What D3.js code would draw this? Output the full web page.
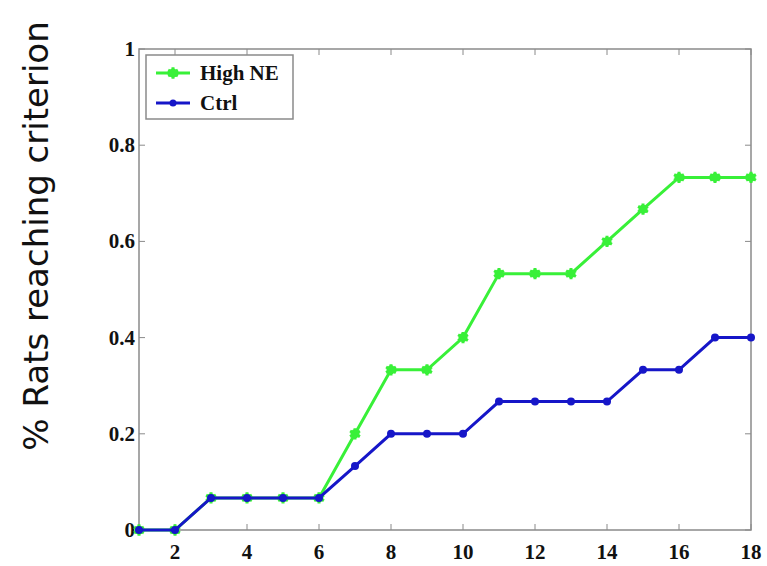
<!DOCTYPE html>
<html>
<head>
<meta charset="utf-8">
<script src="https://cdn.jsdelivr.net/npm/d3@7"></script>
<style>
  body { margin: 0; background: #fff; }
  .tick-label { font-family: "Liberation Serif", "Times New Roman", serif; font-weight: bold; font-size: 21px; fill: #111; }
  .legend-text { font-family: "Liberation Serif", "Times New Roman", serif; font-weight: bold; font-size: 21px; fill: #111; }
  .y-title { font-family: "DejaVu Sans", Verdana, sans-serif; font-size: 34px; fill: #111; }
</style>
</head>
<body>
<div id="chart"></div>
<script>
// data
const days = [1, 2, 3, 4, 5, 6, 7, 8, 9, 10, 11, 12, 13, 14, 15, 16, 17, 18];
const highNE = [0, 0, 0.0667, 0.0667, 0.0667, 0.0667, 0.2, 0.333, 0.333, 0.4, 0.533, 0.533, 0.533, 0.6, 0.667, 0.733, 0.733, 0.733];
const ctrl = [0, 0, 0.0667, 0.0667, 0.0667, 0.0667, 0.133, 0.2, 0.2, 0.2, 0.267, 0.267, 0.267, 0.267, 0.333, 0.333, 0.4, 0.4];
const xTicks = [2, 4, 6, 8, 10, 12, 14, 16, 18];
const yTicks = [0, 0.2, 0.4, 0.6, 0.8, 1];
const seriesNames = ["High NE", "Ctrl"];

const width = 767, height = 566;
const margin = { top: 49, right: 16, bottom: 36, left: 139 };
const innerW = width - margin.left - margin.right;
const innerH = height - margin.top - margin.bottom;

const svg = d3.select("#chart").append("svg")
  .attr("width", width)
  .attr("height", height);

const chart = svg.append("g")
  .attr("transform", `translate(${margin.left},${margin.top})`);

const xScale = d3.scaleLinear().domain([1, 18]).range([0, innerW]);
const yScale = d3.scaleLinear().domain([0, 1]).range([innerH, 0]);

const axisColor = "#8a8a8a";

// box
chart.append("rect")
  .attr("x", 0).attr("y", 0)
  .attr("width", innerW).attr("height", innerH)
  .attr("fill", "none")
  .attr("stroke", axisColor)
  .attr("stroke-width", 1.5);

// inward ticks on all four sides
const tickLen = 6;
chart.selectAll(".xtick-b").data(xTicks).join("line")
  .attr("x1", d => xScale(d)).attr("x2", d => xScale(d))
  .attr("y1", innerH).attr("y2", innerH - tickLen)
  .attr("stroke", axisColor);
chart.selectAll(".xtick-t").data(xTicks).join("line")
  .attr("x1", d => xScale(d)).attr("x2", d => xScale(d))
  .attr("y1", 0).attr("y2", tickLen)
  .attr("stroke", axisColor);
chart.selectAll(".ytick-l").data(yTicks).join("line")
  .attr("x1", 0).attr("x2", tickLen)
  .attr("y1", d => yScale(d)).attr("y2", d => yScale(d))
  .attr("stroke", axisColor);
chart.selectAll(".ytick-r").data(yTicks).join("line")
  .attr("x1", innerW).attr("x2", innerW - tickLen)
  .attr("y1", d => yScale(d)).attr("y2", d => yScale(d))
  .attr("stroke", axisColor);

// tick labels
chart.selectAll(".xlab").data(xTicks).join("text")
  .attr("class", "tick-label")
  .attr("x", d => xScale(d))
  .attr("y", innerH + 29)
  .attr("text-anchor", "middle")
  .text(d => d);
chart.selectAll(".ylab").data(yTicks).join("text")
  .attr("class", "tick-label")
  .attr("x", -4)
  .attr("y", d => yScale(d) + 7)
  .attr("text-anchor", "end")
  .text(d => d3.format("~g")(d));

// y title
svg.append("text")
  .attr("class", "y-title")
  .attr("transform", "translate(48,236) rotate(-90)")
  .attr("text-anchor", "middle")
  .text("% Rats reaching criterion");

const green = "#38f038", blue = "#1616c8";
const line = d3.line().x((d, i) => xScale(days[i])).y(d => yScale(d));

// green first so blue sits on top where they overlap
chart.append("path").datum(highNE)
  .attr("d", line).attr("fill", "none")
  .attr("stroke", green).attr("stroke-width", 3);
chart.selectAll(".gstar").data(highNE).join("path")
  .attr("transform", (d, i) => `translate(${xScale(days[i])},${yScale(d)})`)
  .attr("d", d3.symbol(d3.symbolAsterisk, 90))
  .attr("stroke", green).attr("stroke-width", 3).attr("fill", "none");
chart.selectAll(".gdot").data(highNE).join("circle")
  .attr("cx", (d, i) => xScale(days[i])).attr("cy", d => yScale(d))
  .attr("r", 4.5).attr("fill", green);

chart.append("path").datum(ctrl)
  .attr("d", line).attr("fill", "none")
  .attr("stroke", blue).attr("stroke-width", 3);
chart.selectAll(".bdot").data(ctrl).join("circle")
  .attr("cx", (d, i) => xScale(days[i])).attr("cy", d => yScale(d))
  .attr("r", 4).attr("fill", blue);

// legend
const legend = svg.append("g").attr("transform", "translate(146,55)");
legend.append("rect")
  .attr("width", 147).attr("height", 64)
  .attr("fill", "#fff").attr("stroke", axisColor).attr("stroke-width", 1.5);
const legColors = [green, blue];
seriesNames.forEach((name, i) => {
  const y = 18 + i * 30;
  legend.append("line")
    .attr("x1", 10).attr("x2", 44).attr("y1", y).attr("y2", y)
    .attr("stroke", legColors[i]).attr("stroke-width", 3);
  if (i === 0) {
    legend.append("path")
      .attr("transform", `translate(27,${y})`)
      .attr("d", d3.symbol(d3.symbolAsterisk, 90))
      .attr("stroke", green).attr("stroke-width", 3).attr("fill", "none");
  }
  legend.append("circle").attr("cx", 27).attr("cy", y)
    .attr("r", i === 0 ? 4.5 : 3.5).attr("fill", legColors[i]);
  legend.append("text")
    .attr("class", "legend-text")
    .attr("x", 54).attr("y", y + 7)
    .text(name);
});
</script>
</body>
</html>
